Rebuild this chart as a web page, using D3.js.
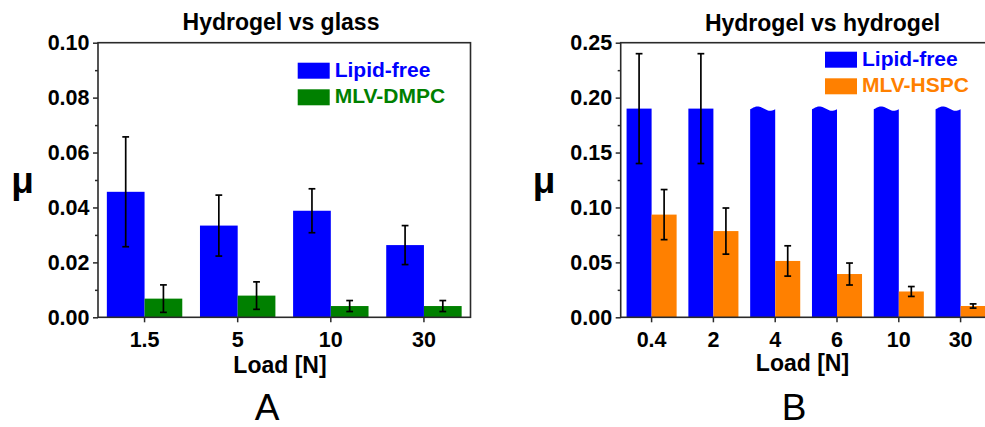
<!DOCTYPE html>
<html>
<head>
<meta charset="utf-8">
<script src="https://cdn.jsdelivr.net/npm/d3@7"></script>
<style>
  html, body { margin: 0; padding: 0; background: #fff; }
  svg { display: block; }
  text { font-family: "Liberation Sans", Arial, Helvetica, sans-serif; }
</style>
</head>
<body>
<svg id="chart" width="985" height="427"></svg>
<script>
// ---------- Data ----------
// Panel A: Hydrogel vs glass
const loadsA = ["1.5", "5", "10", "30"];
const lipidFreeA = [0.0457, 0.0334, 0.0388, 0.0263];
const lipidFreeErrA = [0.0200, 0.0111, 0.0080, 0.0071];
const dmpcA = [0.0068, 0.0079, 0.0041, 0.0041];
const dmpcErrA = [0.0050, 0.0050, 0.0020, 0.0020];
const yTicksA = [0, 0.02, 0.04, 0.06, 0.08, 0.10];
const yMinorA = [0.01, 0.03, 0.05, 0.07, 0.09];

// Panel B: Hydrogel vs hydrogel
const loadsB = ["0.4", "2", "4", "6", "10", "30"];
const lipidFreeB = [0.19, 0.19, 0.19, 0.19, 0.19, 0.19];
const lipidFreeErrB = [0.05, 0.05, null, null, null, null];
const lipidFreeBrokenB = [false, false, true, true, true, true];
const hspcB = [0.0935, 0.0785, 0.0513, 0.0394, 0.0235, 0.0103];
const hspcErrB = [0.0228, 0.0210, 0.0138, 0.0100, 0.0045, 0.0019];
const yTicksB = [0, 0.05, 0.10, 0.15, 0.20, 0.25];
const yMinorB = [0.025, 0.075, 0.125, 0.175, 0.225];

const colors = { blue: "#0000ff", green: "#008000", orange: "#ff8000" };

const svg = d3.select("#chart");

function panel(cfg) {
  const g = svg.append("g");
  const x = d3.scaleBand().domain(cfg.cats).range([cfg.x0, cfg.x1])
    .paddingInner(0.19).paddingOuter(0.095);
  const xs = d3.scaleBand().domain([0, 1]).range([0, x.bandwidth()]);
  const y = d3.scaleLinear().domain([0, cfg.ymax]).range([317.3, 42.7]);

  // bars
  cfg.series.forEach((s, si) => {
    cfg.cats.forEach((c, i) => {
      const bx = x(c) + xs(si), bw = xs.bandwidth();
      const yTop = y(s.values[i]), yBase = y(0);
      if (s.broken && s.broken[i]) {
        const pts = [[bx, yBase]];
        const n = 24;
        for (let k = 0; k <= n; k++) {
          const t = k / n;
          pts.push([bx + t * bw, yTop - 2.2 * Math.cos(2 * Math.PI * (t - 0.3))]);
        }
        pts.push([bx + bw, yBase]);
        g.append("path").attr("d", d3.line()(pts) + "Z").attr("fill", s.color);
      } else {
        g.append("rect").attr("x", bx).attr("y", yTop)
          .attr("width", bw).attr("height", yBase - yTop).attr("fill", s.color);
      }
    });
  });
  // error bars
  cfg.series.forEach((s, si) => {
    cfg.cats.forEach((c, i) => {
      const e = s.err[i];
      if (e == null) return;
      const cx = x(c) + xs(si) + xs.bandwidth() / 2;
      const y1 = y(s.values[i] + e), y2 = y(s.values[i] - e);
      const eg = g.append("g").attr("stroke", "#000").attr("stroke-width", 1.7);
      eg.append("line").attr("x1", cx).attr("x2", cx).attr("y1", y1).attr("y2", y2);
      eg.append("line").attr("x1", cx - 3.4).attr("x2", cx + 3.4).attr("y1", y1).attr("y2", y1);
      eg.append("line").attr("x1", cx - 3.4).attr("x2", cx + 3.4).attr("y1", y2).attr("y2", y2);
    });
  });

  // frame
  g.append("rect").attr("x", cfg.x0).attr("y", 42.7)
    .attr("width", cfg.x1 - cfg.x0).attr("height", 317.3 - 42.7)
    .attr("fill", "none").attr("stroke", "#2a2a2a").attr("stroke-width", 1.6);

  // y axis
  const ya = g.append("g").attr("transform", `translate(${cfg.x0},0)`)
    .call(d3.axisLeft(y).tickValues(cfg.yTicks).tickFormat(d3.format(".2f"))
      .tickSize(5).tickSizeOuter(0).tickPadding(3.5));
  ya.select(".domain").remove();
  ya.selectAll(".tick line").attr("stroke", "#2a2a2a").attr("stroke-width", 1.5);
  ya.selectAll("text").attr("font-size", 21.5).attr("font-weight", "bold").attr("fill", "#000")
    .attr("font-family", "Liberation Sans, Arial, sans-serif");
  const ym = g.append("g").attr("transform", `translate(${cfg.x0},0)`)
    .call(d3.axisLeft(y).tickValues(cfg.yMinor).tickFormat("").tickSize(3).tickSizeOuter(0));
  ym.select(".domain").remove();
  ym.selectAll(".tick line").attr("stroke", "#2a2a2a").attr("stroke-width", 1.5);

  // x axis
  const xa = g.append("g").attr("transform", "translate(0,317.3)")
    .call(d3.axisBottom(x).tickSize(5).tickSizeOuter(0).tickPadding(9));
  xa.select(".domain").remove();
  xa.selectAll(".tick line").attr("stroke", "#2a2a2a").attr("stroke-width", 1.5);
  xa.selectAll("text").attr("font-size", 21.5).attr("font-weight", "bold").attr("fill", "#000")
    .attr("font-family", "Liberation Sans, Arial, sans-serif");

  // titles
  g.append("text").attr("x", cfg.titleX).attr("y", cfg.titleY).attr("text-anchor", "middle")
    .attr("font-size", 23).attr("font-weight", "bold").text(cfg.title);
  g.append("text").attr("x", cfg.loadX).attr("y", cfg.loadY).attr("text-anchor", "middle")
    .attr("font-size", 23).attr("font-weight", "bold").text("Load [N]");
  g.append("text").attr("x", cfg.muX).attr("y", 193).attr("text-anchor", "middle")
    .attr("font-size", 37).attr("font-weight", "bold").text("μ");
  g.append("text").attr("x", cfg.letterX).attr("y", 419.5).attr("text-anchor", "middle")
    .attr("font-size", 37).text(cfg.letter);

  // legend
  cfg.series.forEach((s, si) => {
    const ly = cfg.legY + si * cfg.legDy;
    g.append("rect").attr("x", cfg.legX).attr("y", ly).attr("width", 32).attr("height", 16)
      .attr("fill", s.color);
    g.append("text").attr("x", cfg.legX + 37).attr("y", ly + 14)
      .attr("font-size", 21).attr("font-weight", "bold").attr("fill", s.color).text(s.name);
  });
}

panel({
  cats: loadsA, x0: 98, x1: 470.5, ymax: 0.10,
  yTicks: yTicksA, yMinor: yMinorA,
  series: [
    { name: "Lipid-free", values: lipidFreeA, err: lipidFreeErrA, color: colors.blue },
    { name: "MLV-DMPC", values: dmpcA, err: dmpcErrA, color: colors.green }
  ],
  title: "Hydrogel vs glass", titleX: 281, titleY: 30,
  loadX: 280, loadY: 372.5, muX: 22.5, letter: "A", letterX: 267,
  legX: 297.7, legY: 62.7, legDy: 26.6
});

panel({
  cats: loadsB, x0: 620.7, x1: 991.5, ymax: 0.25,
  yTicks: yTicksB, yMinor: yMinorB,
  series: [
    { name: "Lipid-free", values: lipidFreeB, err: lipidFreeErrB, broken: lipidFreeBrokenB, color: colors.blue },
    { name: "MLV-HSPC", values: hspcB, err: hspcErrB, color: colors.orange }
  ],
  title: "Hydrogel vs hydrogel", titleX: 822.5, titleY: 31,
  loadX: 802.5, loadY: 370.7, muX: 544, letter: "B", letterX: 794,
  legX: 825, legY: 51.7, legDy: 26.6
});
</script>
</body>
</html>
